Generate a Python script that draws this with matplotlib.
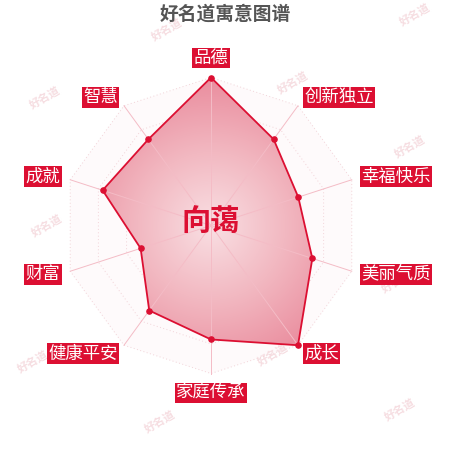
import numpy as np
import matplotlib
matplotlib.use("Agg")
import matplotlib.pyplot as plt
from matplotlib.patches import Polygon
from matplotlib.colors import LinearSegmentedColormap

plt.rcParams['font.family'] = ['Noto Sans CJK SC', 'DejaVu Sans']

# data
title = "好名道寓意图谱"
name = "向蔼"
categories = ["品德", "创新独立", "幸福快乐", "美丽气质", "成长",
              "家庭传承", "健康平安", "财富", "成就", "智慧"]
values = [100, 72, 62, 72, 100, 77, 71, 50, 77, 72]
max_value = 100
levels = [20, 40, 60, 80, 100]

red = '#dc0f32'
cx, cy, R = 211, 225.5, 148

fig = plt.figure(figsize=(4.5, 4.5), dpi=100)
ax = fig.add_axes([0, 0, 1, 1])
ax.set_xlim(0, 450)
ax.set_ylim(450, 0)
ax.axis('off')

n = len(categories)
ang = np.arange(n) * 2 * np.pi / n


def to_xy(v, a):
    r = R * v / max_value
    return cx + r * np.sin(a), cy - r * np.cos(a)


# faint background inside outer ring
ox, oy = to_xy(max_value, ang)
bg = Polygon(np.column_stack([ox, oy]), closed=True, facecolor='#fefafb',
             edgecolor='none', zorder=0)
ax.add_patch(bg)

# grid rings
for lv in levels:
    gx, gy = to_xy(lv, ang)
    ax.plot(np.append(gx, gx[0]), np.append(gy, gy[0]), color='#f2d3d8',
            lw=0.7, ls=(0, (1, 2.5)), zorder=1)

# spokes
for a in ang:
    x, y = to_xy(max_value, a)
    ax.plot([cx, x], [cy, y], color='#f4bcc6', lw=0.7, zorder=3)

# data polygon with radial gradient
px, py = to_xy(np.array(values), ang)
poly = Polygon(np.column_stack([px, py]), closed=True, facecolor='none',
               edgecolor='none')
ax.add_patch(poly)
yy, xx = np.mgrid[0:450, 0:450]
dist = np.sqrt((xx - cx) ** 2 + (yy - cy) ** 2) / R
cmap = LinearSegmentedColormap.from_list(
    'pinkgrad', ['#f9dfe3', '#f2b8c1', '#ea8d9e'])
img = ax.imshow(dist, cmap=cmap, vmin=0, vmax=1, extent=(0, 450, 450, 0),
                zorder=2, interpolation='bilinear')
img.set_clip_path(poly)
ax.set_xlim(0, 450)
ax.set_ylim(450, 0)

ax.plot(np.append(px, px[0]), np.append(py, py[0]), color=red, lw=1.3,
        zorder=4)
ax.scatter(px, py, s=14, color=red, zorder=5)

# category labels
for a, lab in zip(ang, categories):
    x, y = to_xy(max_value * 1.07, a)
    s, c = np.sin(a), np.cos(a)
    ha = 'center' if abs(s) < 0.1 else ('left' if s > 0 else 'right')
    va = 'center'
    if abs(s) < 0.1:
        va = 'bottom' if c > 0 else 'top'
    ax.text(x, y, lab, ha=ha, va=va, fontsize=12.5, color='white', zorder=6,
            bbox=dict(boxstyle='square,pad=0.07', facecolor=red,
                      edgecolor='none'))

# watermarks
wm = [(167, 30), (415, 15), (45, 98), (293, 83), (410, 147), (47, 226),
      (33, 362), (160, 422), (400, 410), (273, 355), (397, 282)]
for x, y in wm:
    ax.text(x, y, "好名道", fontsize=8, color='#f6dde1', rotation=30,
            ha='center', va='center', zorder=0.5, fontweight='bold')

ax.text(cx, cy - 5, name, fontsize=21, color=red, fontweight='bold',
        ha='center', va='center', zorder=7)
ax.text(225, 14, title, fontsize=13.5, color='#555555', fontweight='bold',
        ha='center', va='center')

fig.savefig('out.png', dpi=100)
